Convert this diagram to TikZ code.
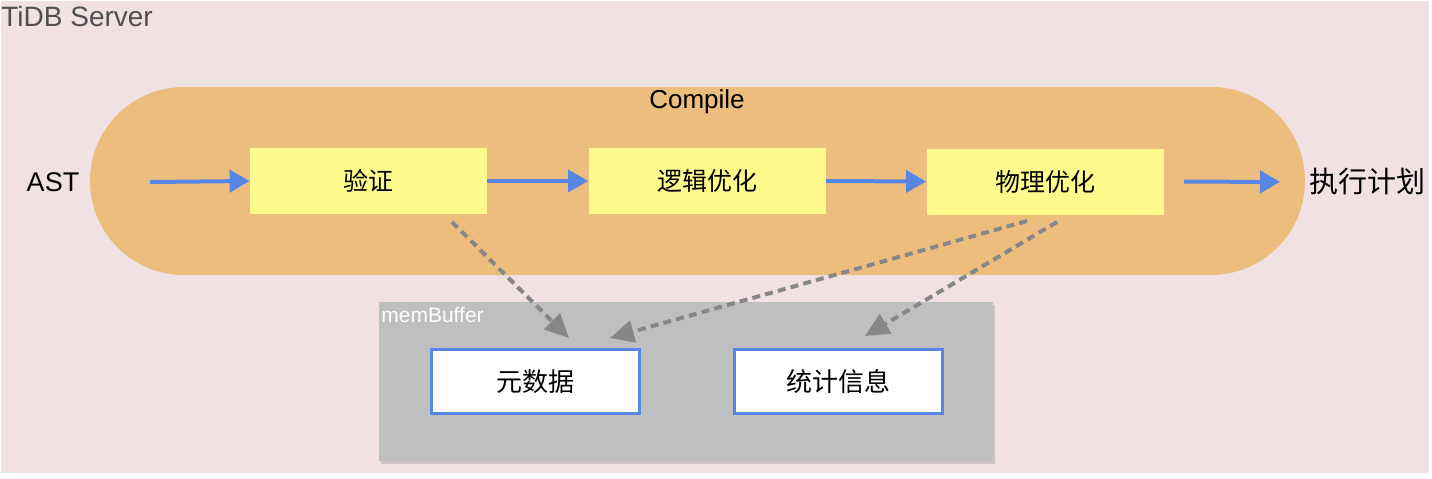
\documentclass[tikz,border=0pt]{standalone}
\usepackage{fontspec}
\setmainfont{Liberation Sans}
\newfontfamily\cjk{Noto Sans CJK SC}
\usetikzlibrary{arrows.meta,shadows}
\definecolor{bgpink}{RGB}{240,225,227}
\definecolor{compileorange}{RGB}{237,189,126}
\definecolor{stepyellow}{RGB}{255,250,140}
\definecolor{flowblue}{RGB}{88,134,228}
\definecolor{memgray}{RGB}{191,191,193}
\definecolor{dashgray}{RGB}{135,135,135}
\definecolor{txtgray}{RGB}{80,80,80}
\tikzset{
  stepbox/.style={fill=stepyellow, draw=none, minimum width=118.5pt, minimum height=33pt, inner sep=0pt, font=\cjk\fontsize{12.5}{14}\selectfont},
  databox/.style={fill=white, draw=flowblue, line width=1.5pt, minimum width=104pt, minimum height=32pt, inner sep=0pt, font=\cjk\fontsize{13}{15}\selectfont},
  flow/.style={draw=flowblue, line width=2pt, -{Triangle[length=10pt,width=11pt]}},
  uses/.style={draw=dashgray, line width=2pt, dash pattern=on 4pt off 2.6pt, -{Triangle[length=12pt,width=11pt]}},
}
\begin{document}
\begin{tikzpicture}[x=0.5pt,y=-0.5pt]
\useasboundingbox (0,0) rectangle (1432,478);
\fill[white] (0,0) rectangle (1432,478);
\fill[bgpink] (1,1) rectangle (1429,473);
\node[anchor=north west, inner sep=0pt, text=txtgray, font=\fontsize{14}{16}\selectfont] (server) at (1,6) {TiDB Server};
% compile stadium
\fill[compileorange] (184,87) -- (1211,87) arc[start angle=90,end angle=-90,radius=47pt] -- (184,275) arc[start angle=270,end angle=90,radius=47pt] -- cycle;
\node[font=\fontsize{13}{15}\selectfont] (compile) at (697,102) {Compile};
\node[font=\fontsize{13.5}{16}\selectfont, anchor=center] (ast) at (53,182) {AST};
\node[stepbox] (v) at (368.5,181) {验证};
\node[stepbox] (l) at (707,181) {逻辑优化};
\node[stepbox] (p) at (1045,181.5) {物理优化};
\node[font=\cjk\fontsize{14.5}{17}\selectfont] (plan) at (1367,182) {执行计划};
\coordinate (astout) at (150,182);
\coordinate (planin) at (1280,182);
\draw[flow] (astout) -- (v.west);
\draw[flow] (v.east) -- (l.west);
\draw[flow] (l.east) -- (p.west);
\draw[flow] ([xshift=10pt]p.east) -- (planin);
% memBuffer
\fill[memgray, drop shadow={shadow xshift=1pt, shadow yshift=-1.5pt, opacity=0.3}] (379,302) rectangle (993,461);
\node[anchor=north west, inner sep=0pt, text=white, font=\fontsize{10.5}{12}\selectfont] (mem) at (381,307) {memBuffer};
\node[databox] (meta) at (535,381.5) {元数据};
\node[databox] (stats) at (838.5,381.5) {统计信息};
\coordinate (d1s) at (452,222);
\coordinate (d1e) at (569,338);
\coordinate (d2s) at (1027,221);
\coordinate (d2e) at (610,338);
\coordinate (d3s) at (1057,222);
\coordinate (d3e) at (865,336);
\draw[uses] (d1s) -- (d1e);
\draw[uses] (d2s) -- (d2e);
\draw[uses] (d3s) -- (d3e);
\end{tikzpicture}
\end{document}
